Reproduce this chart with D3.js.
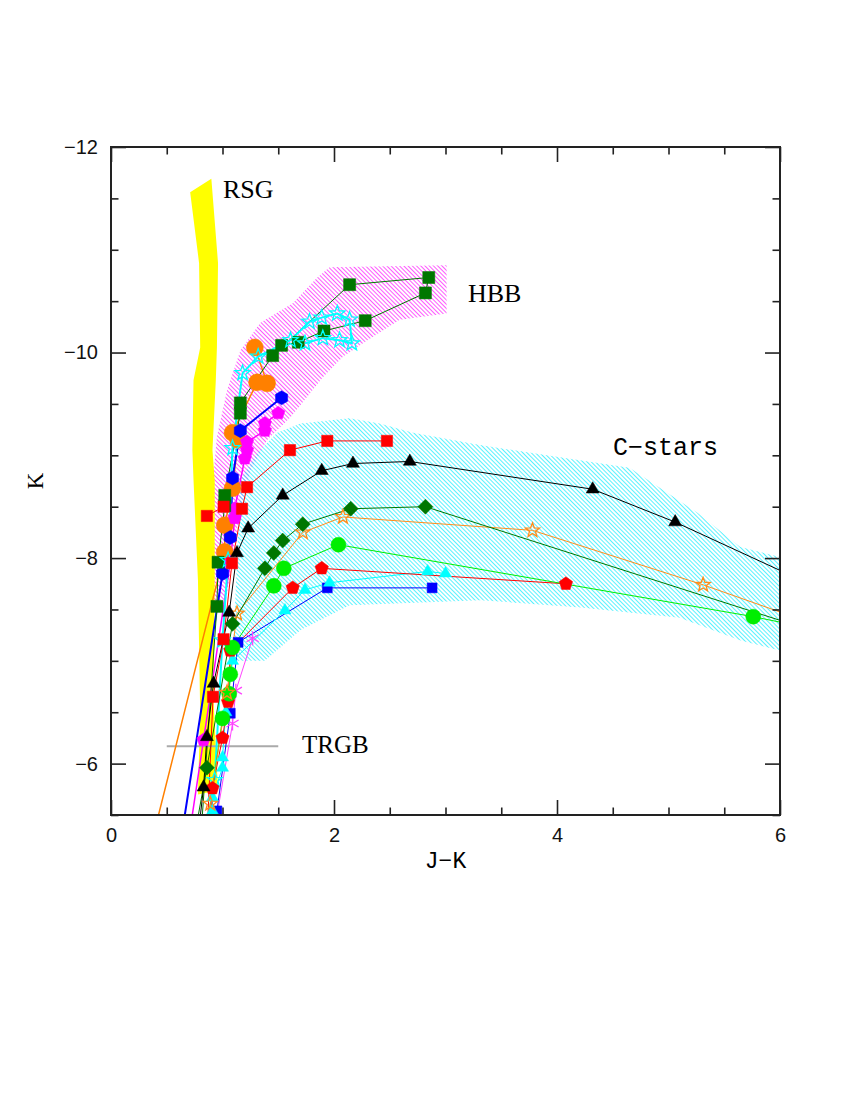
<!DOCTYPE html>
<html>
<head>
<meta charset="utf-8">
<script src="https://cdn.jsdelivr.net/npm/d3@7"></script>
<style>
  body { margin: 0; background: #fff; }
</style>
</head>
<body>
<div id="chart"></div>
<script>

// ---- data: [J-K, K] pairs ----

// shaded regions
const rsgBand = [[0.71,-11.56],[0.90,-11.69],[0.96,-10.87],[0.95,-10.05],[0.94,-9.73],[0.91,-9.05],
  [0.93,-8.76],[0.93,-7.78],[0.92,-6.60],[0.96,-5.74],[0.78,-5.70],[0.80,-6.50],[0.78,-7.78],
  [0.74,-8.76],[0.73,-9.05],[0.74,-9.73],[0.80,-10.05],[0.79,-10.87]];

const hbbRegion = [[0.91,-7.60],[0.915,-8.76],[0.95,-9.18],[1.04,-9.63],[1.16,-10.02],[1.34,-10.29],
  [1.63,-10.48],[1.85,-10.73],[1.96,-10.83],[3.01,-10.85],[3.01,-10.38],[2.59,-10.32],[2.30,-10.12],
  [2.08,-9.96],[1.90,-9.76],[1.76,-9.57],[1.61,-9.37],[1.40,-9.15],[1.25,-8.85],[1.16,-8.47],
  [1.09,-7.98],[1.02,-7.52]];

const cstarRegion = [[1.09,-7.00],[1.13,-7.98],[1.16,-8.76],[1.31,-9.02],[1.49,-9.22],[1.70,-9.31],
  [2.14,-9.36],[2.41,-9.31],[2.71,-9.22],[3.31,-9.10],[3.91,-9.00],[4.65,-8.88],[5.26,-8.44],
  [5.64,-8.11],[6.00,-8.01],[6.20,-7.95],[6.20,-7.05],[6.00,-7.10],[5.64,-7.20],[5.10,-7.42],
  [4.21,-7.52],[3.31,-7.59],[2.14,-7.54],[1.70,-7.30],[1.38,-7.00]];

const trgbJK = [0.50, 1.50];
const trgbK = -6.17;

// HBB tracks
const hbbSquares = [[0.80,-5.20],[0.95,-7.53],[0.96,-7.96],[1.02,-8.51],[1.02,-8.61],[1.16,-9.41],
  [1.16,-9.51],[1.45,-9.97],[2.14,-10.66],[2.85,-10.73],[2.82,-10.58],[2.28,-10.31],[1.91,-10.21],
  [1.68,-10.10],[1.53,-10.07]];
const hbbStars = [[0.93,-5.84],[1.00,-7.20],[1.05,-7.98],[1.09,-9.07],[1.18,-9.80],[1.32,-9.96],
  [1.61,-10.12],[1.78,-10.30],[1.89,-10.34],[2.03,-10.38],[2.14,-10.32],[2.16,-10.09],[2.05,-10.12],
  [1.90,-10.14],[1.74,-10.09]];
const hbbCircles = [[0.31,-5.00],[1.02,-8.06],[1.02,-8.32],[1.09,-8.68],[1.14,-9.15],[1.09,-9.22],
  [1.31,-9.71],[1.40,-9.70],[1.29,-10.05]];
const hbbHexagons = [[0.59,-5.00],[1.00,-7.85],[1.07,-8.20],[1.09,-8.78],[1.16,-9.24],[1.53,-9.56]];
const hbbPentagons = [[0.66,-5.00],[0.83,-6.23],[1.07,-7.96],[1.11,-8.39],[1.11,-8.48],[1.20,-8.97],
  [1.22,-9.05],[1.22,-9.13],[1.38,-9.24],[1.38,-9.31],[1.50,-9.41]];

// C-star tracks
const cRedSquares = [[0.85,-5.00],[0.915,-6.65],[1.01,-7.21],[1.085,-7.95],[1.175,-8.48],[1.22,-8.69],
  [1.605,-9.05],[1.94,-9.14],[2.475,-9.14]];
const cRedSquaresB = [[0.86,-8.41],[1.01,-8.50]];
const cTriangles = [[0.75,-5.00],[0.83,-5.77],[0.86,-6.26],[0.92,-6.78],[1.06,-7.47],[1.13,-8.05],
  [1.23,-8.29],[1.54,-8.61],[1.89,-8.85],[2.17,-8.92],[2.68,-8.94],[4.32,-8.67],[5.06,-8.35],[6.40,-7.68]];
const cDiamonds = [[0.70,-5.00],[0.86,-5.96],[1.09,-7.36],[1.38,-7.90],[1.46,-8.05],[1.54,-8.17],
  [1.72,-8.33],[2.15,-8.48],[2.82,-8.50],[6.30,-7.29]];
const cOpenStars = [[0.85,-5.00],[0.89,-5.61],[1.04,-6.69],[1.13,-7.46],[1.72,-8.25],[2.08,-8.40],
  [3.78,-8.27],[5.31,-7.74],[6.30,-7.36]];
const cCircles = [[0.81,-5.00],[1.00,-6.44],[1.06,-6.68],[1.07,-6.87],[1.09,-7.13],[1.46,-7.73],
  [1.55,-7.90],[2.04,-8.13],[5.76,-7.43],[6.30,-7.31]];
const cPentagons = [[0.88,-5.00],[0.91,-5.76],[1.00,-6.25],[1.05,-6.60],[1.07,-7.10],[1.63,-7.71],
  [1.89,-7.90],[4.08,-7.75]];
const cCyanTriangles = [[0.90,-5.30],[0.91,-5.54],[0.91,-5.67],[1.00,-5.96],[1.00,-6.06],[1.03,-6.50],
  [1.09,-7.00],[1.56,-7.49],[1.74,-7.69],[1.96,-7.76],[2.84,-7.87],[3.00,-7.85]];
const cBlueSquares = [[0.93,-5.30],[0.95,-5.54],[1.07,-6.49],[1.14,-7.18],[1.94,-7.71],[2.88,-7.71]];
const cAsterisks = [[0.92,-5.30],[1.09,-6.39],[1.12,-6.71],[1.27,-7.22]];

// axis ticks
const xMajor = [0, 2, 4, 6];
const yMajor = [-12, -10, -8, -6];

// ---- layout ----
const width = 850, height = 1100;
const plot = {left: 111, right: 780, top: 147, bottom: 815};

const svg = d3.select("#chart").append("svg")
  .attr("width", width)
  .attr("height", height);

const xScale = d3.scaleLinear().domain([0, 6]).range([plot.left, plot.right]);
const yScale = d3.scaleLinear().domain([-12, -5.5]).range([plot.top, plot.bottom]);

// marker shapes, size = radius in px
function polygon(n, rot) {
  return {draw(ctx, r) {
    for (let i = 0; i < n; i++) {
      const a = rot + i * 2 * Math.PI / n;
      const px = r * Math.sin(a), py = -r * Math.cos(a);
      if (i) ctx.lineTo(px, py); else ctx.moveTo(px, py);
    }
    ctx.closePath();
  }};
}
const circleSym = {draw(ctx, r) { ctx.moveTo(r, 0); ctx.arc(0, 0, r, 0, 2 * Math.PI); }};
const starSym = {draw(ctx, r) {
  const ri = r * 0.42;
  for (let i = 0; i < 10; i++) {
    const rr = i % 2 ? ri : r, a = i * Math.PI / 5;
    const px = rr * Math.sin(a), py = -rr * Math.cos(a);
    if (i) ctx.lineTo(px, py); else ctx.moveTo(px, py);
  }
  ctx.closePath();
}};
const asteriskSym = {draw(ctx, r) {
  for (let i = 0; i < 3; i++) {
    const a = Math.PI / 2 + i * Math.PI / 3;
    ctx.moveTo(r * Math.cos(a), r * Math.sin(a));
    ctx.lineTo(-r * Math.cos(a), -r * Math.sin(a));
  }
}};
const shapes = {
  square: polygon(4, Math.PI / 4),
  diamond: polygon(4, 0),
  triangle: polygon(3, 0),
  pentagon: polygon(5, 0),
  hexagon: polygon(6, 0),
  circle: circleSym,
  star: starSym,
  asterisk: asteriskSym
};

// track styles
const tracks = [
  {data: hbbCircles,     color: "#ff8000", shape: "circle",   r: 8.5, open: false, lw: 1.5},
  {data: hbbPentagons,   color: "#ff00ff", shape: "pentagon", r: 7,   open: false, lw: 1.5},
  {data: hbbHexagons,    color: "#0000ff", shape: "hexagon",  r: 7,   open: false, lw: 2},
  {data: hbbSquares,     color: "#007700", shape: "square",   r: 8.5, open: false, lw: 1},
  {data: hbbStars,       color: "#00ffff", shape: "star",     r: 8,   open: true,  lw: 2},
  {data: cAsterisks,     color: "#ff44ff", shape: "asterisk", r: 7,   open: true,  lw: 1},
  {data: cBlueSquares,   color: "#0000ff", shape: "square",   r: 7,   open: false, lw: 1},
  {data: cCyanTriangles, color: "#00ffff", shape: "triangle", r: 7,   open: false, lw: 1},
  {data: cPentagons,     color: "#ff0000", shape: "pentagon", r: 7,   open: false, lw: 1},
  {data: cCircles,       color: "#00ee00", shape: "circle",   r: 7.5, open: false, lw: 1},
  {data: cOpenStars,     color: "#ff8c1a", shape: "star",     r: 7.5, open: true,  lw: 1},
  {data: cDiamonds,      color: "#007700", shape: "diamond",  r: 7.5, open: false, lw: 1},
  {data: cTriangles,     color: "#000000", shape: "triangle", r: 7.5, open: false, lw: 1},
  {data: cRedSquaresB,   color: "#ff0000", shape: "square",   r: 8,   open: false, lw: 1},
  {data: cRedSquares,    color: "#ff0000", shape: "square",   r: 8,   open: false, lw: 1}
];

// ---- defs: clip + hatch patterns ----
const defs = svg.append("defs");
defs.append("clipPath").attr("id", "plotClip")
  .append("rect")
    .attr("x", plot.left).attr("y", plot.top)
    .attr("width", plot.right - plot.left).attr("height", plot.bottom - plot.top);

function hatch(id, color) {
  const p = defs.append("pattern")
    .attr("id", id)
    .attr("patternUnits", "userSpaceOnUse")
    .attr("width", 6).attr("height", 3)
    .attr("patternTransform", "rotate(45)");
  p.append("line")
    .attr("x1", 0).attr("y1", 1.5).attr("x2", 6).attr("y2", 1.5)
    .attr("stroke", color).attr("stroke-width", 0.75);
}
hatch("hatchM", "#ff22ff");
hatch("hatchC", "#22eeff");

const area = d3.line()
  .x(d => xScale(d[0]))
  .y(d => yScale(d[1]))
  .curve(d3.curveLinearClosed);

const line = d3.line()
  .x(d => xScale(d[0]))
  .y(d => yScale(d[1]));

const g = svg.append("g").attr("clip-path", "url(#plotClip)");

// regions
g.append("path").attr("d", area(hbbRegion)).attr("fill", "url(#hatchM)");
g.append("path").attr("d", area(cstarRegion)).attr("fill", "url(#hatchC)");
g.append("path").attr("d", area(rsgBand)).attr("fill", "#ffff00");

// TRGB
g.append("line")
  .attr("x1", xScale(trgbJK[0])).attr("x2", xScale(trgbJK[1]))
  .attr("y1", yScale(trgbK)).attr("y2", yScale(trgbK))
  .attr("stroke", "#aaaaaa").attr("stroke-width", 2);

// track lines
g.selectAll("path.track")
  .data(tracks)
  .enter()
  .append("path")
    .attr("class", "track")
    .attr("d", d => line(d.data))
    .attr("fill", "none")
    .attr("stroke", d => d.color)
    .attr("stroke-width", d => d.lw);

// markers
tracks.forEach(t => {
  const sym = d3.symbol().type(shapes[t.shape]).size(t.r);
  g.append("g").selectAll("path")
    .data(t.data)
    .enter()
    .append("path")
      .attr("transform", d => `translate(${xScale(d[0])},${yScale(d[1])})`)
      .attr("d", sym)
      .attr("fill", t.open ? "none" : t.color)
      .attr("stroke", t.color)
      .attr("stroke-width", t.open ? 1.3 : 0.5);
});

// ---- axes (ticks point inward) ----
function ticks(axis, pos, values, size, labels) {
  const a = svg.append("g")
    .attr("transform", pos)
    .call(axis.tickValues(values).tickSize(-size).tickSizeOuter(0)
      .tickPadding(13)
      .tickFormat(labels ? d3.format("d") : ""));
  a.select(".domain").remove();
  a.selectAll("line").attr("stroke", "#222").attr("stroke-width", 1.6);
  a.selectAll("text")
    .attr("font-family", "Liberation Sans, Arial, sans-serif")
    .attr("font-size", 20)
    .attr("fill", "#111");
  return a;
}
const xMinor = d3.range(0, 6.001, 0.5).filter(v => v % 2 !== 0);
const yMinor = d3.range(-12, -5.499, 0.5).filter(v => v % 2 !== 0);

ticks(d3.axisBottom(xScale), `translate(0,${plot.bottom})`, xMajor, 15, true);
ticks(d3.axisBottom(xScale), `translate(0,${plot.bottom})`, xMinor, 7.5, false);
ticks(d3.axisTop(xScale), `translate(0,${plot.top})`, xMajor, 15, false);
ticks(d3.axisTop(xScale), `translate(0,${plot.top})`, xMinor, 7.5, false);
ticks(d3.axisLeft(yScale), `translate(${plot.left},0)`, yMajor, 15, true);
ticks(d3.axisLeft(yScale), `translate(${plot.left},0)`, yMinor, 7.5, false);
ticks(d3.axisRight(yScale), `translate(${plot.right},0)`, yMajor, 15, false);
ticks(d3.axisRight(yScale), `translate(${plot.right},0)`, yMinor, 7.5, false);

// frame
svg.append("rect")
  .attr("x", plot.left).attr("y", plot.top)
  .attr("width", plot.right - plot.left).attr("height", plot.bottom - plot.top)
  .attr("fill", "none").attr("stroke", "#222").attr("stroke-width", 2);

// ---- labels ----
const serif = "Liberation Serif, DejaVu Serif, serif";
const mono = "Liberation Mono, DejaVu Sans Mono, monospace";
svg.append("text").attr("x", 223).attr("y", 198)
  .attr("font-family", serif).attr("font-size", 26).text("RSG");
svg.append("text").attr("x", 468).attr("y", 302)
  .attr("font-family", serif).attr("font-size", 26).text("HBB");
svg.append("text").attr("x", 302).attr("y", 753)
  .attr("font-family", serif).attr("font-size", 25).text("TRGB");
svg.append("text").attr("x", 613).attr("y", 455)
  .attr("font-family", mono).attr("font-size", 25).text("C−stars");

svg.append("text")
  .attr("x", (plot.left + plot.right) / 2).attr("y", 868)
  .attr("text-anchor", "middle")
  .attr("font-family", mono).attr("font-size", 23)
  .text("J−K");
svg.append("text")
  .attr("transform", `translate(43,${(plot.top + plot.bottom) / 2}) rotate(-90)`)
  .attr("text-anchor", "middle")
  .attr("font-family", serif).attr("font-size", 23)
  .text("K");

</script>
</body>
</html>
